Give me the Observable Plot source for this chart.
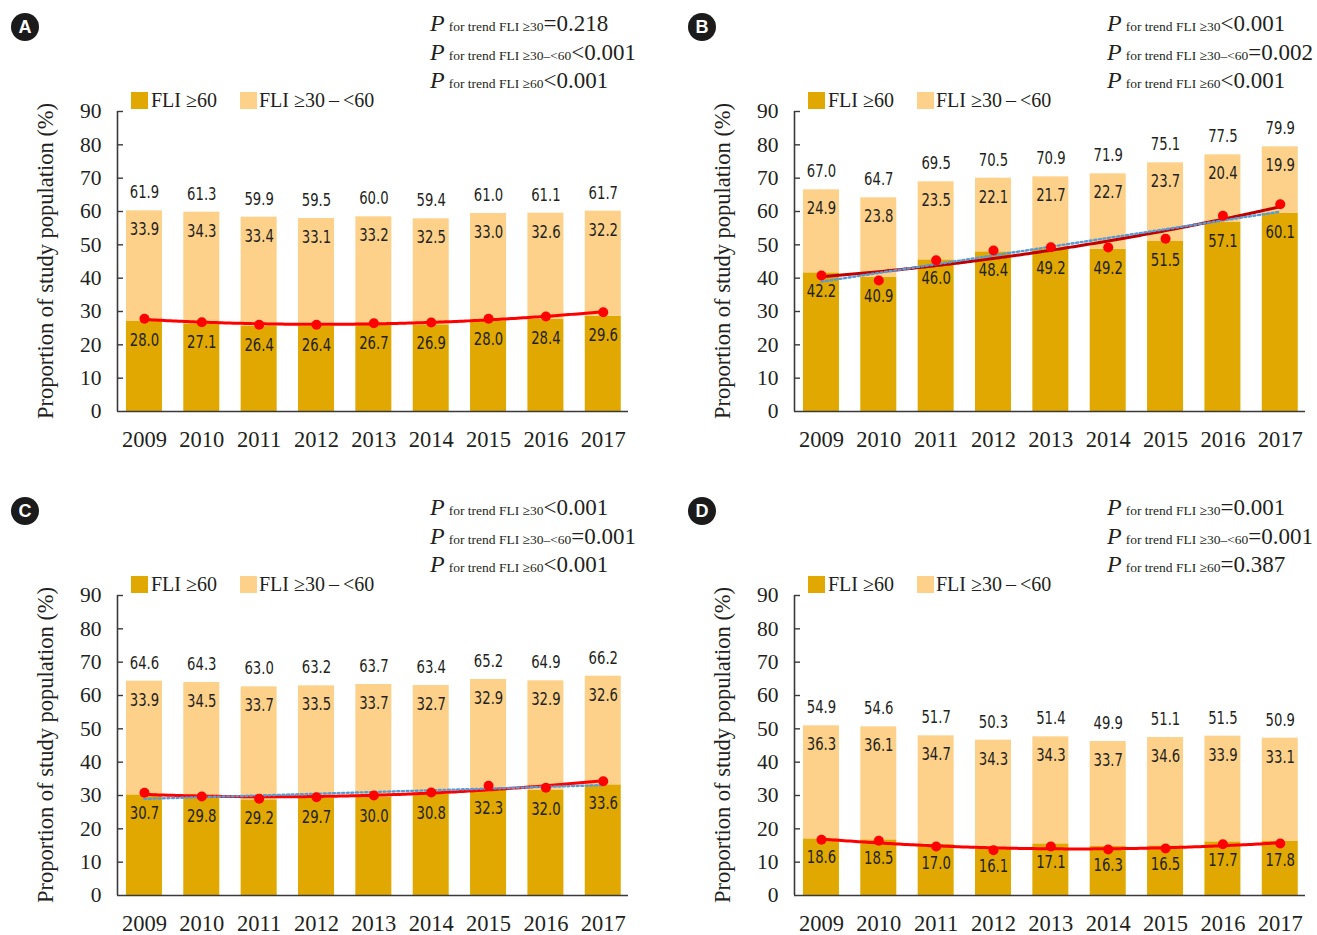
<!DOCTYPE html>
<html><head><meta charset="utf-8">
<script src="https://cdn.jsdelivr.net/npm/d3@7"></script>
<script src="https://cdn.jsdelivr.net/npm/@observablehq/plot@0.6"></script>
<style>
body{margin:0;background:#fff;}
#root{position:relative;width:1317px;height:935px;overflow:hidden;background:#fff;}
.panel{position:absolute;}
.panel svg{overflow:visible;}
</style></head><body><div id="root"></div>
<script>
const years = [2009, 2010, 2011, 2012, 2013, 2014, 2015, 2016, 2017];
const yTicks = [0, 10, 20, 30, 40, 50, 60, 70, 80, 90];
const legendLabels = ["FLI \u226560", "FLI \u226530\u2009\u2013\u2009<60"];
const yTitle = "Proportion of study population (%)";

// Panel A — printed labels
const A_high = [28.0, 27.1, 26.4, 26.4, 26.7, 26.9, 28.0, 28.4, 29.6];
const A_mid = [33.9, 34.3, 33.4, 33.1, 33.2, 32.5, 33.0, 32.6, 32.2];
const A_total = [61.9, 61.3, 59.9, 59.5, 60.0, 59.4, 61.0, 61.1, 61.7];
// Panel A — drawn bar heights and points
const A_barHigh = [27.0, 26.3, 25.5, 25.5, 26.0, 26.0, 27.2, 27.7, 28.6];
const A_barTotal = [60.2, 59.8, 58.3, 57.9, 58.4, 57.8, 59.4, 59.5, 60.1];
const A_points = [27.8, 26.8, 26.0, 26.0, 26.5, 26.7, 27.8, 28.5, 29.8];
const A_pvals = [["\u226530", "=0.218"], ["\u226530\u2013<60", "<0.001"], ["\u226560", "<0.001"]];

// Panel B
const B_high = [42.2, 40.9, 46.0, 48.4, 49.2, 49.2, 51.5, 57.1, 60.1];
const B_mid = [24.9, 23.8, 23.5, 22.1, 21.7, 22.7, 23.7, 20.4, 19.9];
const B_total = [67.0, 64.7, 69.5, 70.5, 70.9, 71.9, 75.1, 77.5, 79.9];
const B_barHigh = [41.6, 40.3, 45.5, 47.9, 48.7, 48.7, 51.0, 56.7, 59.4];
const B_barTotal = [66.5, 64.1, 68.9, 70.0, 70.4, 71.3, 74.6, 77.0, 79.4];
const B_points = [40.8, 39.3, 45.4, 48.3, 49.3, 49.2, 51.8, 58.7, 62.2];
const B_pvals = [["\u226530", "<0.001"], ["\u226530\u2013<60", "=0.002"], ["\u226560", "<0.001"]];

// Panel C
const C_high = [30.7, 29.8, 29.2, 29.7, 30.0, 30.8, 32.3, 32.0, 33.6];
const C_mid = [33.9, 34.5, 33.7, 33.5, 33.7, 32.7, 32.9, 32.9, 32.6];
const C_total = [64.6, 64.3, 63.0, 63.2, 63.7, 63.4, 65.2, 64.9, 66.2];
const C_barHigh = [30.2, 29.4, 28.7, 29.2, 29.5, 30.3, 31.8, 31.5, 33.2];
const C_barTotal = [64.3, 63.9, 62.6, 62.9, 63.3, 63.0, 64.8, 64.4, 65.8];
const C_points = [30.8, 29.7, 29.0, 29.5, 30.0, 30.9, 32.9, 32.3, 34.3];
const C_pvals = [["\u226530", "<0.001"], ["\u226530\u2013<60", "=0.001"], ["\u226560", "<0.001"]];

// Panel D
const D_high = [18.6, 18.5, 17.0, 16.1, 17.1, 16.3, 16.5, 17.7, 17.8];
const D_mid = [36.3, 36.1, 34.7, 34.3, 34.3, 33.7, 34.6, 33.9, 33.1];
const D_total = [54.9, 54.6, 51.7, 50.3, 51.4, 49.9, 51.1, 51.5, 50.9];
const D_barHigh = [17.0, 16.7, 15.4, 14.4, 15.5, 14.7, 14.9, 16.1, 16.2];
const D_barTotal = [50.9, 50.6, 47.9, 46.6, 47.6, 46.2, 47.4, 47.8, 47.2];
const D_points = [16.7, 16.4, 14.7, 13.6, 14.7, 13.8, 14.1, 15.4, 15.6];
const D_pvals = [["\u226530", "=0.001"], ["\u226530\u2013<60", "=0.001"], ["\u226560", "=0.387"]];

const DARK = "#E0A800";
const LIGHT = "#FDD189";
const INK = "#231f20";
const SERIF = "'Liberation Serif', 'DejaVu Serif', serif";
const NARROW = "'DejaVu Sans Condensed', 'DejaVu Sans', sans-serif";

const panels = [
  {id: "A", left: 0, top: 0, high: A_high, mid: A_mid, total: A_total, barHigh: A_barHigh, barTotal: A_barTotal, points: A_points, pvals: A_pvals, lineColor: "#FF0000", trend: false},
  {id: "B", left: 677, top: 0, high: B_high, mid: B_mid, total: B_total, barHigh: B_barHigh, barTotal: B_barTotal, points: B_points, pvals: B_pvals, lineColor: "#C00000", trend: true},
  {id: "C", left: 0, top: 484, high: C_high, mid: C_mid, total: C_total, barHigh: C_barHigh, barTotal: C_barTotal, points: C_points, pvals: C_pvals, lineColor: "#FF0000", trend: true},
  {id: "D", left: 677, top: 484, high: D_high, mid: D_mid, total: D_total, barHigh: D_barHigh, barTotal: D_barTotal, points: D_points, pvals: D_pvals, lineColor: "#FF0000", trend: false}
];

// least-squares polynomial trendline (derived from the point series)
function polyfit(xs, ys, deg) {
  const n = deg + 1, x0 = 2013;
  const M = Array.from({length: n}, () => Array(n + 1).fill(0));
  xs.forEach((xv, i) => {
    const x = xv - x0;
    for (let r = 0; r < n; r++) {
      for (let c = 0; c < n; c++) M[r][c] += Math.pow(x, r + c);
      M[r][n] += ys[i] * Math.pow(x, r);
    }
  });
  for (let i = 0; i < n; i++) {
    let p = i;
    for (let k = i + 1; k < n; k++) if (Math.abs(M[k][i]) > Math.abs(M[p][i])) p = k;
    [M[i], M[p]] = [M[p], M[i]];
    for (let k = i + 1; k < n; k++) {
      const f = M[k][i] / M[i][i];
      for (let c = i; c <= n; c++) M[k][c] -= f * M[i][c];
    }
  }
  const coef = Array(n).fill(0);
  for (let i = n - 1; i >= 0; i--) {
    let s = M[i][n];
    for (let c = i + 1; c < n; c++) s -= M[i][c] * coef[c];
    coef[i] = s / M[i][i];
  }
  return x => coef.reduce((s, c, k) => s + c * Math.pow(x - x0, k), 0);
}

const W = 640, H = 460, ML = 117, MR = 12, MT = 111, MB = 49;
const xDomain = [2008.53, 2017.44];
const frameW = W - ML - MR;
const stepPx = frameW / (xDomain[1] - xDomain[0]);
const barInset = (stepPx - 36) / 2;

const root = document.getElementById("root");

panels.forEach(p => {
  const rows = years.map((year, i) => ({
    year, high: p.barHigh[i], total: p.barTotal[i],
    hiLab: p.high[i], midLab: p.mid[i], totLab: p.total[i], pt: p.points[i]
  }));
  const quad = polyfit(years, p.points, 2);
  const lin = polyfit(years, p.points, 1);
  const xs = d3.range(years[0], years[years.length - 1] + 1e-9, 0.05);
  const curve = xs.map(x => ({x, y: quad(x)}));
  const linear = [years[0], years[years.length - 1]].map(x => ({x, y: lin(x)}));

  const marks = [
    Plot.rect(rows, {x1: d => d.year - 0.5, x2: d => d.year + 0.5, y1: d => 0, y2: "high", fill: DARK, insetLeft: barInset, insetRight: barInset}),
    Plot.rect(rows, {x1: d => d.year - 0.5, x2: d => d.year + 0.5, y1: "high", y2: "total", fill: LIGHT, insetLeft: barInset, insetRight: barInset}),
    Plot.line(curve, {x: "x", y: "y", stroke: p.lineColor, strokeWidth: 3})
  ];
  if (p.trend) marks.push(Plot.line(linear, {x: "x", y: "y", stroke: "#5B9BD5", strokeWidth: 2.4, strokeDasharray: "2 2.6"}));
  marks.push(
    Plot.dot(rows, {x: "year", y: "pt", r: 5, fill: "#FF0000", stroke: "none"}),
    Plot.text(rows, {x: "year", y: "total", text: d => d.totLab.toFixed(1), dy: -18, fontSize: 17.5, fontFamily: NARROW, fill: INK}),
    Plot.text(rows, {x: "year", y: "total", text: d => d.midLab.toFixed(1), dy: 19, fontSize: 17.5, fontFamily: NARROW, fill: INK}),
    Plot.text(rows, {x: "year", y: "high", text: d => d.hiLab.toFixed(1), dy: 19, fontSize: 17.5, fontFamily: NARROW, fill: INK}),
    Plot.ruleY([0], {stroke: "#3a3a3a", strokeWidth: 1.6}),
    Plot.ruleX([xDomain[0]], {y1: 0, y2: 90, stroke: "#3a3a3a", strokeWidth: 1.6}),
    Plot.ruleY(yTicks.slice(1), {x1: xDomain[0], x2: xDomain[0], insetRight: -6, stroke: "#3a3a3a", strokeWidth: 1.4}),
    Plot.axisY(yTicks, {tickSize: 0, tickPadding: 16, fontSize: 21.5, fontFamily: SERIF, fill: INK, label: null}),
    Plot.axisX(years, {tickSize: 0, tickPadding: 20, tickFormat: d => String(d), fontSize: 22.5, fontFamily: SERIF, fill: INK, label: null})
  );

  const svg = Plot.plot({
    width: W, height: H,
    marginLeft: ML, marginRight: MR, marginTop: MT, marginBottom: MB,
    x: {type: "linear", domain: xDomain},
    y: {domain: [0, 90]},
    style: {background: "transparent", overflow: "visible", fontFamily: SERIF, color: INK},
    marks
  });

  // narrow the data labels horizontally, as in the original typeface
  d3.select(svg).selectAll('g[aria-label="text"] text').each(function() {
    const t = this.getAttribute("transform") || "";
    this.setAttribute("transform", t + " scale(0.84,1)");
  });

  const g = d3.select(svg).append("g").attr("text-anchor", "start");
  // panel badge
  g.append("circle").attr("cx", 25).attr("cy", 27).attr("r", 14).attr("fill", "#1b1b1b");
  g.append("text").attr("x", 25).attr("y", 27).attr("dy", "0.36em").attr("text-anchor", "middle")
    .attr("fill", "#fff").attr("font-family", "'Liberation Sans', Arial, sans-serif")
    .attr("font-weight", "bold").attr("font-size", 18).text(p.id);
  // P for trend
  p.pvals.forEach(([sub, val], i) => {
    const t = g.append("text").attr("x", 430).attr("y", 31 + i * 28.5).attr("text-anchor", "start")
      .attr("font-family", SERIF).attr("fill", INK);
    t.append("tspan").attr("font-style", "italic").attr("font-size", 24).text("P");
    t.append("tspan").attr("font-size", 13.5).attr("dx", 4).text("for trend FLI " + sub);
    t.append("tspan").attr("font-size", 23).text(val);
  });
  // legend
  g.append("rect").attr("x", 131).attr("y", 92).attr("width", 17).attr("height", 17).attr("fill", DARK);
  g.append("text").attr("x", 151).attr("y", 107).attr("text-anchor", "start").attr("font-family", SERIF).attr("font-size", 20).attr("fill", INK).text(legendLabels[0]);
  g.append("rect").attr("x", 240).attr("y", 92).attr("width", 17).attr("height", 17).attr("fill", LIGHT);
  g.append("text").attr("x", 259).attr("y", 107).attr("text-anchor", "start").attr("font-family", SERIF).attr("font-size", 20).attr("fill", INK).text(legendLabels[1]);
  // y-axis title
  g.append("text").attr("transform", "translate(45,261) rotate(-90)").attr("text-anchor", "middle")
    .attr("dy", "0.35em").attr("font-family", SERIF).attr("font-size", 22.5).attr("fill", INK).text(yTitle);

  const div = document.createElement("div");
  div.className = "panel";
  div.style.left = p.left + "px";
  div.style.top = p.top + "px";
  div.appendChild(svg);
  root.appendChild(div);
});
</script>
</body></html>
